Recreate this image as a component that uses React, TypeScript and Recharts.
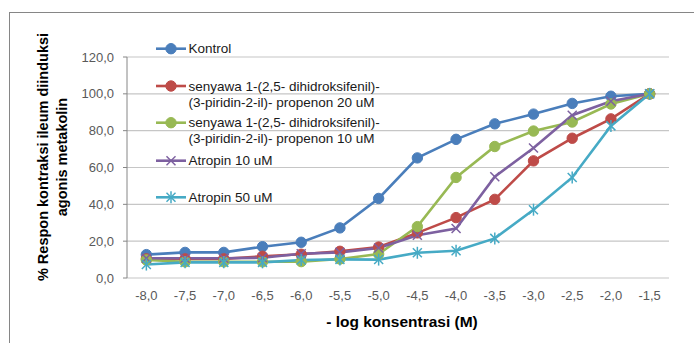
import React from 'react';
import { LineChart, Line, XAxis, YAxis, CartesianGrid } from 'recharts';

const concentrations = [-8.0, -7.5, -7.0, -6.5, -6.0, -5.5, -5.0, -4.5, -4.0, -3.5, -3.0, -2.5, -2.0, -1.5];
const kontrol = [12.7, 13.9, 13.9, 17.0, 19.4, 27.2, 43.2, 65.2, 75.3, 83.7, 89.0, 94.8, 98.7, 100];
const senyawa20 = [10.4, 10.4, 10.4, 11.8, 12.9, 14.5, 16.8, 24.5, 32.8, 42.7, 63.6, 75.9, 86.4, 100];
const senyawa10 = [9.8, 8.8, 8.8, 8.8, 8.9, 10.3, 13.0, 27.9, 54.6, 71.4, 79.8, 84.7, 94.5, 100];
const atropin10 = [10.7, 10.7, 10.7, 11.0, 13.2, 13.9, 16.3, 23.2, 26.9, 55.0, 70.6, 88.4, 96.0, 100];
const atropin50 = [7.3, 8.5, 8.5, 8.5, 9.8, 10.1, 10.0, 13.7, 14.8, 21.5, 37.1, 54.6, 82.6, 100];
const yTicks = [0, 20, 40, 60, 80, 100, 120];

const series = [
  { key: 'kontrol', values: kontrol, name: ['Kontrol'], color: '#4A7EBB', marker: 'circle' },
  { key: 's20', values: senyawa20, name: ['senyawa 1-(2,5- dihidroksifenil)-', '(3-piridin-2-il)- propenon 20 uM'], color: '#BE4B48', marker: 'circle' },
  { key: 's10', values: senyawa10, name: ['senyawa 1-(2,5- dihidroksifenil)-', '(3-piridin-2-il)- propenon 10 uM'], color: '#98B954', marker: 'circle' },
  { key: 'a10', values: atropin10, name: ['Atropin 10 uM'], color: '#7D60A0', marker: 'x' },
  { key: 'a50', values: atropin50, name: ['Atropin 50 uM'], color: '#46AAC5', marker: 'star' },
];

const data = concentrations.map((c, i) => {
  const row: any = { x: c };
  series.forEach((s) => { row[s.key] = s.values[i]; });
  return row;
});

const boundaryTicks = [concentrations[0] - 0.25, ...concentrations.map((c) => c + 0.25)];

const fmt = (v: number) => v.toFixed(1).replace('.', ',');

const FONT = '"Liberation Sans", Arial, sans-serif';

function Marker({ type, cx, cy, color }: { type: string; cx: number; cy: number; color: string }) {
  if (type === 'circle') return <circle cx={cx} cy={cy} r={5.2} fill={color} stroke={color} strokeWidth={1} />;
  const r = 4.5;
  if (type === 'x')
    return (
      <g stroke={color} strokeWidth={1.5}>
        <line x1={cx - r} y1={cy - r} x2={cx + r} y2={cy + r} />
        <line x1={cx - r} y1={cy + r} x2={cx + r} y2={cy - r} />
      </g>
    );
  return (
    <g stroke={color} strokeWidth={1.5}>
      <line x1={cx - r} y1={cy - r} x2={cx + r} y2={cy + r} />
      <line x1={cx - r} y1={cy + r} x2={cx + r} y2={cy - r} />
      <line x1={cx} y1={cy - 6} x2={cx} y2={cy + 6} />
    </g>
  );
}

const legendRows = [48.7, 86, 122.7, 160.7, 197.3];

export default function App() {
  return (
    <div style={{ position: 'fixed', left: 0, top: 0, width: 694, height: 343, overflow: 'hidden', background: '#fff' }}>
      <div style={{ position: 'absolute', left: 9, top: 12, width: 760, height: 420, border: '1px solid #868686' }} />
      <div style={{ position: 'absolute', left: 0, top: 0 }}>
        <LineChart width={694} height={343} data={data} margin={{ top: 57, right: 25, bottom: 0, left: 0 }}>
          <CartesianGrid vertical={false} stroke="#c6c6c6" strokeWidth={1.2} />
          <XAxis
            xAxisId="b"
            dataKey="x"
            type="number"
            domain={[boundaryTicks[0], boundaryTicks[boundaryTicks.length - 1]]}
            ticks={boundaryTicks}
            tickFormatter={() => ''}
            height={0}
            tickSize={5}
            stroke="#868686"
            tickLine={{ stroke: '#868686' }}
            axisLine={{ stroke: '#868686' }}
            interval={0}
          />
          <XAxis
            dataKey="x"
            type="number"
            domain={[boundaryTicks[0], boundaryTicks[boundaryTicks.length - 1]]}
            ticks={concentrations}
            height={65}
            tickLine={false}
            axisLine={false}
            tickSize={0}
            interval={0}
            tick={(p: any) => (
              <text x={p.x} y={300} textAnchor="middle" fontFamily={FONT} fontSize={13} fill="#595959">
                {fmt(p.payload.value)}
              </text>
            )}
            label={(p: any) => (
              <text x={402} y={326.5} textAnchor="middle" fontFamily={FONT} fontSize={15.5} fontWeight="bold" fill="#000">
                - log konsentrasi (M)
              </text>
            )}
          />
          <YAxis
            width={127}
            domain={[0, 120]}
            ticks={yTicks}
            tickFormatter={fmt}
            tickSize={4}
            tickMargin={9}
            tick={{ fontFamily: FONT, fontSize: 13, fill: '#595959' }}
            tickLine={{ stroke: '#868686' }}
            axisLine={{ stroke: '#868686' }}
            label={() => (
              <g fontFamily={FONT} fontSize={14.5} fontWeight="bold" fill="#000">
                <text transform="translate(48,157) rotate(-90)" textAnchor="middle">% Respon kontraksi ileum diinduksi</text>
                <text transform="translate(67,157) rotate(-90)" textAnchor="middle">agonis metakolin</text>
              </g>
            )}
          />
          {series.map((s) => (
            <Line
              key={s.key}
              dataKey={s.key}
              stroke={s.color}
              strokeWidth={2.6}
              isAnimationActive={false}
              dot={(p: any) => <Marker key={`${s.key}-${p.index}`} type={s.marker} cx={p.cx} cy={p.cy} color={s.color} />}
            />
          ))}
        </LineChart>
      </div>
      <svg width={694} height={343} style={{ position: 'absolute', left: 0, top: 0, pointerEvents: 'none' }}>
        {series.map((s, i) => {
          const y = legendRows[i];
          return (
            <g key={s.key}>
              <line x1={156} y1={y} x2={186} y2={y} stroke={s.color} strokeWidth={2.6} />
              <Marker type={s.marker} cx={171} cy={y} color={s.color} />
              {s.name.map((t, j) => (
                <text key={j} x={188.5} y={y + 4.5 + j * 16} fontFamily={FONT} fontSize={13.5} fill="#1a1a1a">
                  {t}
                </text>
              ))}
            </g>
          );
        })}
      </svg>
    </div>
  );
}
